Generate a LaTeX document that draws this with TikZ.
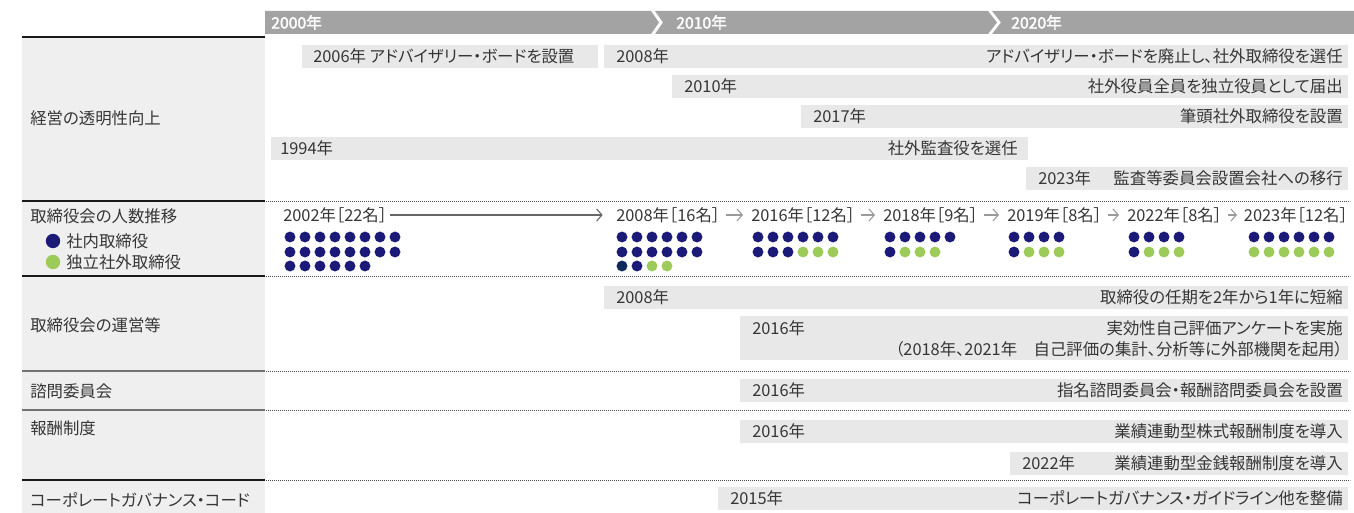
\documentclass[tikz,border=0pt]{standalone}
\usepackage{fontspec}
\setmainfont{Noto Sans CJK JP}[AutoFakeBold=2.5]
\newfontfamily\pfont{Noto Sans CJK JP}[CharacterWidth=AlternateProportional]
\usetikzlibrary{arrows.meta}
\definecolor{hdr}{HTML}{A3A3A3}
\definecolor{barc}{HTML}{E8E8E8}
\definecolor{leftc}{HTML}{EFEFEF}
\definecolor{txtc}{HTML}{363636}
\definecolor{navy}{HTML}{1B1A78}
\definecolor{navydk}{HTML}{0F2A5A}
\definecolor{grn}{HTML}{9CCB59}
\definecolor{arrc}{HTML}{9A9A9A}
\begin{document}
\begin{tikzpicture}[x=0.75pt,y=-0.75pt,
  t/.style={text=txtc,font=\pfont\fontsize{12.3}{14}\selectfont,inner sep=0pt},
  tl/.style={t,anchor=west},
  tr/.style={t,anchor=east},
  ht/.style={text=white,font=\fontsize{11.8}{13}\selectfont\bfseries,inner sep=0pt,anchor=west},
  barbox/.style={fill=barc},
  sepblack/.style={line width=1.1pt,black!90},
  sepgray/.style={line width=1.1pt,black!55},
  dotline/.style={line width=0.7pt,black!70,dash pattern=on 0.7pt off 0.8pt},
  arr/.style={draw=arrc,line width=0.8pt,-{Straight Barb[length=4pt,width=9pt,line width=0.8pt]}},
  nd/.style={fill=navy},
  gd/.style={fill=grn},
]
\useasboundingbox (0,0) rectangle (1354,513);
% left column
\fill[leftc] (22,37) rectangle (265,513);
% header
\fill[hdr] (265,11) -- (651,11) -- (659,22.5) -- (651,34) -- (265,34) -- cycle;
\fill[hdr] (655,11) -- (988,11) -- (997,22.5) -- (988,34) -- (655,34) -- (663,22.5) -- cycle;
\fill[hdr] (992,11) -- (1354,11) -- (1354,34) -- (992,34) -- (1001,22.5) -- cycle;
\node[ht] (y2000) at (271,22.5) {2000年};
\node[ht] (y2010) at (676,22.5) {2010年};
\node[ht] (y2020) at (1011,22.5) {2020年};
% separators
\draw[sepblack] (22,37) -- (265,37);
\draw[sepblack] (22,201) -- (265,201);
\draw[sepblack] (22,276) -- (265,276);
\draw[sepgray] (22,371) -- (265,371);
\draw[sepgray] (22,410) -- (265,410);
\draw[sepblack] (22,480) -- (265,480);
\foreach \yy in {201,276,371,410,480} \draw[dotline] (266,\yy) -- (1350,\yy);
% row labels
\node[tl] (r1) at (30,118) {経営の透明性向上};
\node[tl] (r2) at (30,216) {取締役会の人数推移};
\node[tl] (r3) at (30,325) {取締役会の運営等};
\node[tl] (r4) at (30,391) {諮問委員会};
\node[tl] (r5) at (30,428) {報酬制度};
\node[tl] (r6) at (30,500) {コーポレートガバナンス・コード};
% legend
\fill[navy] (53,241) circle[radius=5.4pt];
\node[tl] (lg1) at (66,241) {社内取締役};
\fill[grn] (53,262) circle[radius=5.4pt];
\node[tl] (lg2) at (66,262) {独立社外取締役};
% row 1 bars
\fill[barbox] (302,45) rectangle (598,68);
\node[tl] (a1) at (313,56.5) {2006年 アドバイザリー・ボードを設置};
\fill[barbox] (604,45) rectangle (1348,68);
\node[tl] (a2y) at (616,56.5) {2008年};
\node[tr] (a2t) at (1343,56.5) {アドバイザリー・ボードを廃止し、社外取締役を選任};
\fill[barbox] (672,75) rectangle (1348,98);
\node[tl] (a3y) at (684,86.5) {2010年};
\node[tr] (a3t) at (1343,86.5) {社外役員全員を独立役員として届出};
\fill[barbox] (801,105) rectangle (1348,128);
\node[tl] (a4y) at (813,116.5) {2017年};
\node[tr] (a4t) at (1343,116.5) {筆頭社外取締役を設置};
\fill[barbox] (271,137) rectangle (1028,160);
\node[tl] (a5y) at (280,148.5) {1994年};
\node[tr] (a5t) at (1018,148.5) {社外監査役を選任};
\fill[barbox] (1026,167) rectangle (1348,190);
\node[tl] (a6y) at (1038,178.5) {2023年};
\node[tr] (a6t) at (1343,178.5) {監査等委員会設置会社への移行};
% row 2 counts
\node[tl] (c02) at (283,215) {2002年［22名］};
\node[tl] (c08) at (616,215) {2008年［16名］};
\node[tl] (c16) at (751,215) {2016年［12名］};
\node[tl] (c18) at (883,215) {2018年［9名］};
\node[tl] (c19) at (1007,215) {2019年［8名］};
\node[tl] (c22) at (1127,215) {2022年［8名］};
\node[tr] (c23) at (1348,215) {2023年［12名］};
\draw[arr,draw=black!60] ([xshift=2pt]c02.east) -- ([xshift=-10pt]c08.west);
\draw[arr] ([xshift=4pt]c08.east) -- ([xshift=-6pt]c16.west);
\draw[arr] ([xshift=4pt]c16.east) -- ([xshift=-6pt]c18.west);
\draw[arr] ([xshift=4pt]c18.east) -- ([xshift=-6pt]c19.west);
\draw[arr] ([xshift=4pt]c19.east) -- ([xshift=-6pt]c22.west);
\draw[arr] ([xshift=4pt]c22.east) -- ([xshift=-5pt]c23.west);
% dots
\foreach \i in {0,...,7} {\fill[nd] (290+15*\i,237) circle[radius=4.1pt]; \fill[nd] (290+15*\i,252) circle[radius=4.1pt];}
\foreach \i in {0,...,5} \fill[nd] (290+15*\i,266) circle[radius=4.1pt];
\foreach \i in {0,...,5} {\fill[nd] (622+15*\i,237) circle[radius=4.1pt]; \fill[nd] (622+15*\i,252) circle[radius=4.1pt];}
\fill[navydk] (622,266) circle[radius=4.1pt];
\fill[nd] (637,266) circle[radius=4.1pt];
\foreach \i in {2,3} \fill[gd] (622+15*\i,266) circle[radius=4.1pt];
\foreach \i in {0,...,5} \fill[nd] (758+15*\i,237) circle[radius=4.1pt];
\foreach \i in {0,1,2} \fill[nd] (758+15*\i,252) circle[radius=4.1pt];
\foreach \i in {3,4,5} \fill[gd] (758+15*\i,252) circle[radius=4.1pt];
\foreach \i in {0,...,4} \fill[nd] (890+15*\i,237) circle[radius=4.1pt];
\fill[nd] (890,252) circle[radius=4.1pt];
\foreach \i in {1,2,3} \fill[gd] (890+15*\i,252) circle[radius=4.1pt];
\foreach \i in {0,...,3} \fill[nd] (1014+15*\i,237) circle[radius=4.1pt];
\fill[nd] (1014,252) circle[radius=4.1pt];
\foreach \i in {1,2,3} \fill[gd] (1014+15*\i,252) circle[radius=4.1pt];
\foreach \i in {0,...,3} \fill[nd] (1134+15*\i,237) circle[radius=4.1pt];
\fill[nd] (1134,252) circle[radius=4.1pt];
\foreach \i in {1,2,3} \fill[gd] (1134+15*\i,252) circle[radius=4.1pt];
\foreach \i in {0,...,5} {\fill[nd] (1254+15*\i,237) circle[radius=4.1pt]; \fill[gd] (1254+15*\i,252) circle[radius=4.1pt];}
% row 3
\fill[barbox] (604,286) rectangle (1348,309);
\node[tl] (d1y) at (616,297.5) {2008年};
\node[tr] (d1t) at (1343,297.5) {取締役の任期を2年から1年に短縮};
\fill[barbox] (740,316) rectangle (1348,360);
\node[tl] (d2y) at (752,328) {2016年};
\node[tr] (d2t) at (1343,328) {実効性自己評価アンケートを実施};
\node[tr] (d2u) at (1343,349) {（2018年、2021年　自己評価の集計、分析等に外部機関を起用）};
% row 4
\fill[barbox] (740,379) rectangle (1348,402);
\node[tl] (e1y) at (752,390.5) {2016年};
\node[tr] (e1t) at (1343,390.5) {指名諮問委員会・報酬諮問委員会を設置};
% row 5
\fill[barbox] (740,420) rectangle (1348,443);
\node[tl] (f1y) at (752,431.5) {2016年};
\node[tr] (f1t) at (1343,431.5) {業績連動型株式報酬制度を導入};
\fill[barbox] (1010,452) rectangle (1348,475);
\node[tl] (f2y) at (1022,463.5) {2022年};
\node[tr] (f2t) at (1343,463.5) {業績連動型金銭報酬制度を導入};
% row 6
\fill[barbox] (718,487) rectangle (1348,510);
\node[tl] (g1y) at (730,498.5) {2015年};
\node[tr] (g1t) at (1343,498.5) {コーポレートガバナンス・ガイドライン他を整備};
\end{tikzpicture}
\end{document}
